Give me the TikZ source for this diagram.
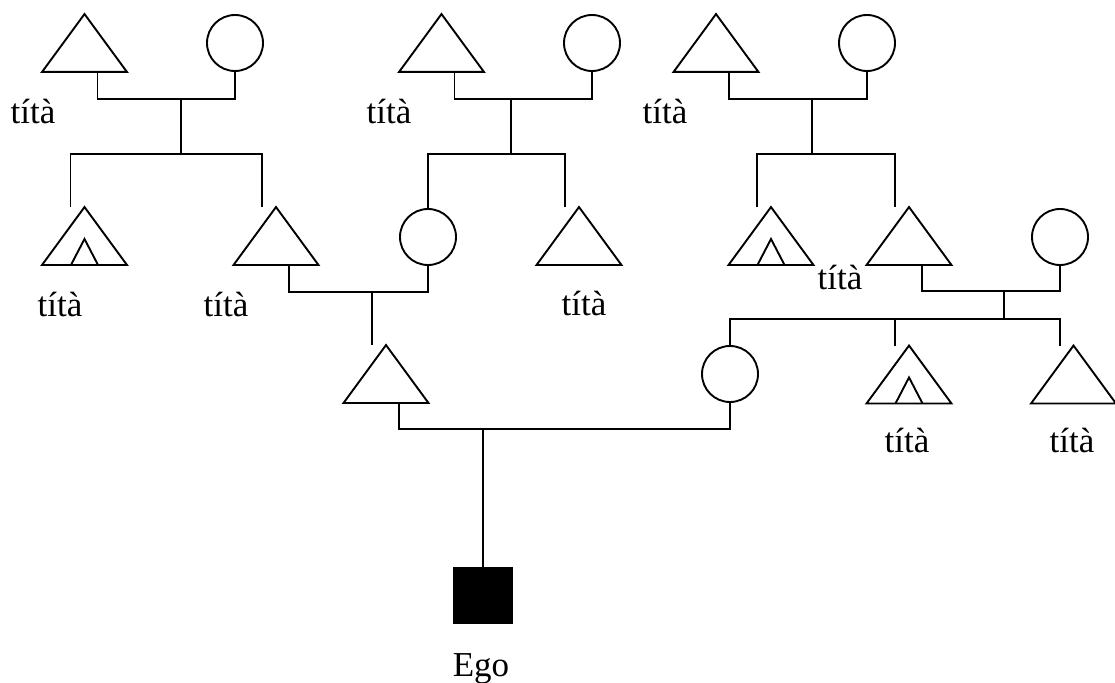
\documentclass[tikz,border=0pt]{standalone}
\usepackage{fontspec}
\setmainfont{Liberation Serif}
\begin{document}
\begin{tikzpicture}[x=1pt,y=-1pt,line width=1.9pt,
  male/.style={rectangle,draw=none,minimum width=83pt,minimum height=56pt,inner sep=0pt},
  female/.style={circle,draw,minimum size=56pt,inner sep=0pt},
  ego/.style={rectangle,draw,fill=black,minimum width=58pt,minimum height=56pt,inner sep=0pt},
  lbl/.style={anchor=base,inner sep=0pt,font=\fontsize{35}{40}\selectfont}]
\useasboundingbox (0,0) rectangle (1115,682);

% first generation
\node[male]   (A1) at (84.5,43) {};
\node[female] (B1) at (235,43) {};
\node[male]   (A2) at (441.5,43) {};
\node[female] (B2) at (592,43) {};
\node[male]   (A3) at (716,43) {};
\node[female] (B3) at (867,43) {};

% second generation
\node[male]   (C1) at (84.5,236) {};
\node[male]   (C2) at (276,236) {};
\node[female] (C3) at (428,237) {};
\node[male]   (C4) at (579,236) {};
\node[male]   (C5) at (771,236) {};
\node[male]   (C6) at (909,236) {};
\node[female] (C7) at (1060,237) {};

% third generation
\node[male]   (D1) at (386,374) {};
\node[female] (D2) at (730,374) {};
\node[male]   (D3) at (909,374.5) {};
\node[male]   (D4) at (1073.5,374.5) {};

% ego
\node[ego] (E) at (483,595.5) {};

% triangle outlines for the male nodes
\foreach \n in {A1,A2,A3,C1,C2,C4,C5,C6,D1,D3,D4}
  \draw[line join=miter] (\n.south west) -- (\n.north) -- (\n.south east) -- cycle;

% small inner triangles
\foreach \n in {C1,C5,D3}
  \draw[line join=miter] ([xshift=-13.5pt]\n.south) -- ([yshift=26pt]\n.south) -- ([xshift=13.5pt]\n.south);

% junction points
\coordinate (m1) at (181,99);   \coordinate (s1) at (181,154);
\coordinate (m2) at (511,99);   \coordinate (s2) at (511,154);
\coordinate (m3) at (812,99);   \coordinate (s3) at (812,154);
\coordinate (m4) at (372,292);
\coordinate (m5) at (1004,291); \coordinate (s5) at (1004,319);
\coordinate (m6) at (483,429);

% marriages
\draw ([xshift=13pt]A1.south) |- (m1) -| (B1.south);
\draw ([xshift=13pt]A2.south) |- (m2) -| (B2.south);
\draw ([xshift=13pt]A3.south) |- (m3) -| (B3.south);
\draw ([xshift=13pt]C2.south) |- (m4) -| (C3.south);
\draw ([xshift=13pt]C6.south) |- (m5) -| (C7.south);
\draw ([xshift=13pt]D1.south) |- (m6) -| (D2.south);

% descent and sibling bars
\draw (m1) -- (s1);
\draw ([xshift=-14pt]C1.north) |- (s1) -| ([xshift=-14pt]C2.north);
\draw (m2) -- (s2);
\draw (C3.north) |- (s2) -| ([xshift=-14pt]C4.north);
\draw (m3) -- (s3);
\draw ([xshift=-14pt]C5.north) |- (s3) -| ([xshift=-14pt]C6.north);
\draw (m4) -- ([xshift=-14pt]D1.north);
\draw (m5) -- (s5);
\draw (D2.north) |- (s5) -| ([xshift=-13.5pt]D4.north);
\draw ([xshift=-14pt]D3.north) -- ([xshift=-14pt]D3.north |- s5);
\draw (m6) -- (E.north);

% labels
\node[lbl] (t1) at (33,123) {títà};
\node[lbl] (t2) at (389,123) {títà};
\node[lbl] (t3) at (665,123) {títà};
\node[lbl] (t4) at (60,316) {títà};
\node[lbl] (t5) at (226,316) {títà};
\node[lbl] (t6) at (584,315) {títà};
\node[lbl] (t7) at (840,289) {títà};
\node[lbl] (t8) at (907,452) {títà};
\node[lbl] (t9) at (1072,452) {títà};
\node[lbl] (te) at (481,676) {Ego};
\end{tikzpicture}
\end{document}
